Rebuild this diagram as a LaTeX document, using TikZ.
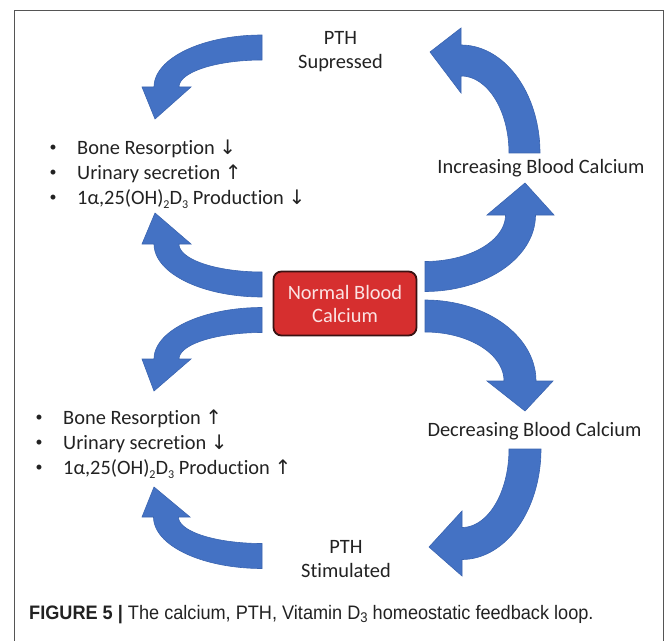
\documentclass[tikz,border=0pt]{standalone}
\usepackage{fontspec}
\usepackage{graphicx}
\setmainfont{Carlito}[Ligatures=NoCommon]
\newfontfamily\capfont{Liberation Sans}
\newfontfamily\arrfont{DejaVu Sans}
\definecolor{arrblue}{HTML}{4472C4}
\definecolor{arredge}{HTML}{3A64B0}
\definecolor{boxred}{HTML}{D62F2F}
\definecolor{boxedge}{HTML}{3A1212}
\definecolor{boxtext}{HTML}{FBE3E3}
\definecolor{framegray}{HTML}{555555}
\definecolor{txtgray}{HTML}{222222}
\newcommand{\lowsub}[1]{\raisebox{-3.5bp}{\fontsize{12bp}{12bp}\selectfont #1}}
\newcommand{\arrdn}{{\arrfont\fontsize{20bp}{20bp}\selectfont ↓}}
\newcommand{\arrup}{{\arrfont\fontsize{20bp}{20bp}\selectfont ↑}}
% #1 cx, #2 cy, #3 rx, #4 ry, #5 half body width, #6 half head width, #7 start angle, #8 head angle, #9 tip
\newcommand{\blockarrow}[9]{%
  \fill[arrblue, draw=arredge, line width=0.6bp, line join=miter]
    plot[domain=#7:#8, samples=40] ({#1+(#3+#5)*cos(\x)},{#2+(#4+#5)*sin(\x)})
    -- ({#1+(#3+#6)*cos(#8)},{#2+(#4+#6)*sin(#8)})
    -- #9
    -- ({#1+(#3-#6)*cos(#8)},{#2+(#4-#6)*sin(#8)})
    -- plot[domain=#8:#7, samples=40] ({#1+(#3-#5)*cos(\x)},{#2+(#4-#5)*sin(\x)})
    -- cycle;}
\tikzset{
  txt/.style={inner sep=0pt, text=txtgray, font=\fontsize{20.4bp}{24.5bp}\selectfont},
  lbl/.style={txt, anchor=base},
  itm/.style={txt, anchor=base west},
  bul/.style={txt, anchor=center, font=\fontsize{14bp}{14bp}\selectfont},
  normalbox/.style={rectangle, rounded corners=8bp, fill=boxred, draw=boxedge,
    line width=1.8bp, minimum width=143bp, minimum height=64bp, align=center,
    text=boxtext, inner sep=0pt, font=\fontsize{20.4bp}{23bp}\selectfont},
}
\begin{document}
\begin{tikzpicture}[x=1bp, y=-1bp]
\useasboundingbox (0,0) rectangle (669,641);
% frame
\draw[framegray, line width=1.2bp] (14.5,641) -- (14.5,10.5) -- (663.5,10.5) -- (663.5,641);

% upper loop arrows
\blockarrow{262}{87}{95.5}{39.5}{12.5}{24.5}{270}{180}{(155,119)}
\blockarrow{262}{244}{95.5}{40.5}{12.5}{24.5}{90}{180}{(155,213)}
\blockarrow{425}{215}{95.5}{61.5}{15}{33.5}{90}{0}{(525,183)}
\blockarrow{461}{153}{63.5}{92.5}{15.5}{32.5}{0}{-90}{(430,52)}
% lower loop arrows
\blockarrow{262}{359}{95.5}{39}{12.5}{24.5}{270}{180}{(154,391)}
\blockarrow{262}{517}{96}{39}{12.5}{24}{90}{180}{(154,487)}
\blockarrow{425}{381}{95}{65}{16}{33}{-90}{0}{(525,411)}
\blockarrow{462}{449}{63}{94.5}{16}{32.5}{0}{90}{(429,547)}

% central node
\node[normalbox] (normal) at (345,303.5) {Normal Blood\\Calcium};

% labels
\node[lbl] (pth1) at (340.5,44.5) {PTH};
\node[lbl] (sup) at (340.5,68.5) {Supressed};
\node[lbl] (inc) at (541,173.5) {Increasing Blood Calcium};
\node[lbl] (dec) at (534.5,436.5) {Decreasing Blood Calcium};
\node[lbl] (pth2) at (346,553.5) {PTH};
\node[lbl] (stim) at (346,577.5) {Stimulated};

% upper bullets
\node[bul] (ub1) at (53,148.5) {•};
\node[bul] (ub2) at (53,173.5) {•};
\node[bul] (ub3) at (53,198.5) {•};
\node[itm] (ut1) at (77,154.5) {Bone Resorption \arrdn};
\node[itm] (ut2) at (77,179.5) {Urinary secretion \arrup};
\node[itm] (ut3) at (77,204.5) {1α,25(OH)\lowsub{2}D\lowsub{3} Production \arrdn};

% lower bullets
\node[bul] (lb1) at (39,418.5) {•};
\node[bul] (lb2) at (39,443.5) {•};
\node[bul] (lb3) at (39,468.5) {•};
\node[itm] (lt1) at (63,424.5) {Bone Resorption \arrup};
\node[itm] (lt2) at (63,449.5) {Urinary secretion \arrdn};
\node[itm] (lt3) at (63,474.5) {1α,25(OH)\lowsub{2}D\lowsub{3} Production \arrup};

% caption
\node[anchor=base west, inner sep=0pt, text=txtgray, font=\capfont\fontsize{19.5bp}{20bp}\selectfont] (cap) at (29,619)
  {\scalebox{0.93}[1]{\textbf{FIGURE 5 |} The calcium, PTH, Vitamin D{\fontsize{14bp}{14bp}\selectfont\raisebox{-3bp}{3}} homeostatic feedback loop.}};
\end{tikzpicture}
\end{document}
